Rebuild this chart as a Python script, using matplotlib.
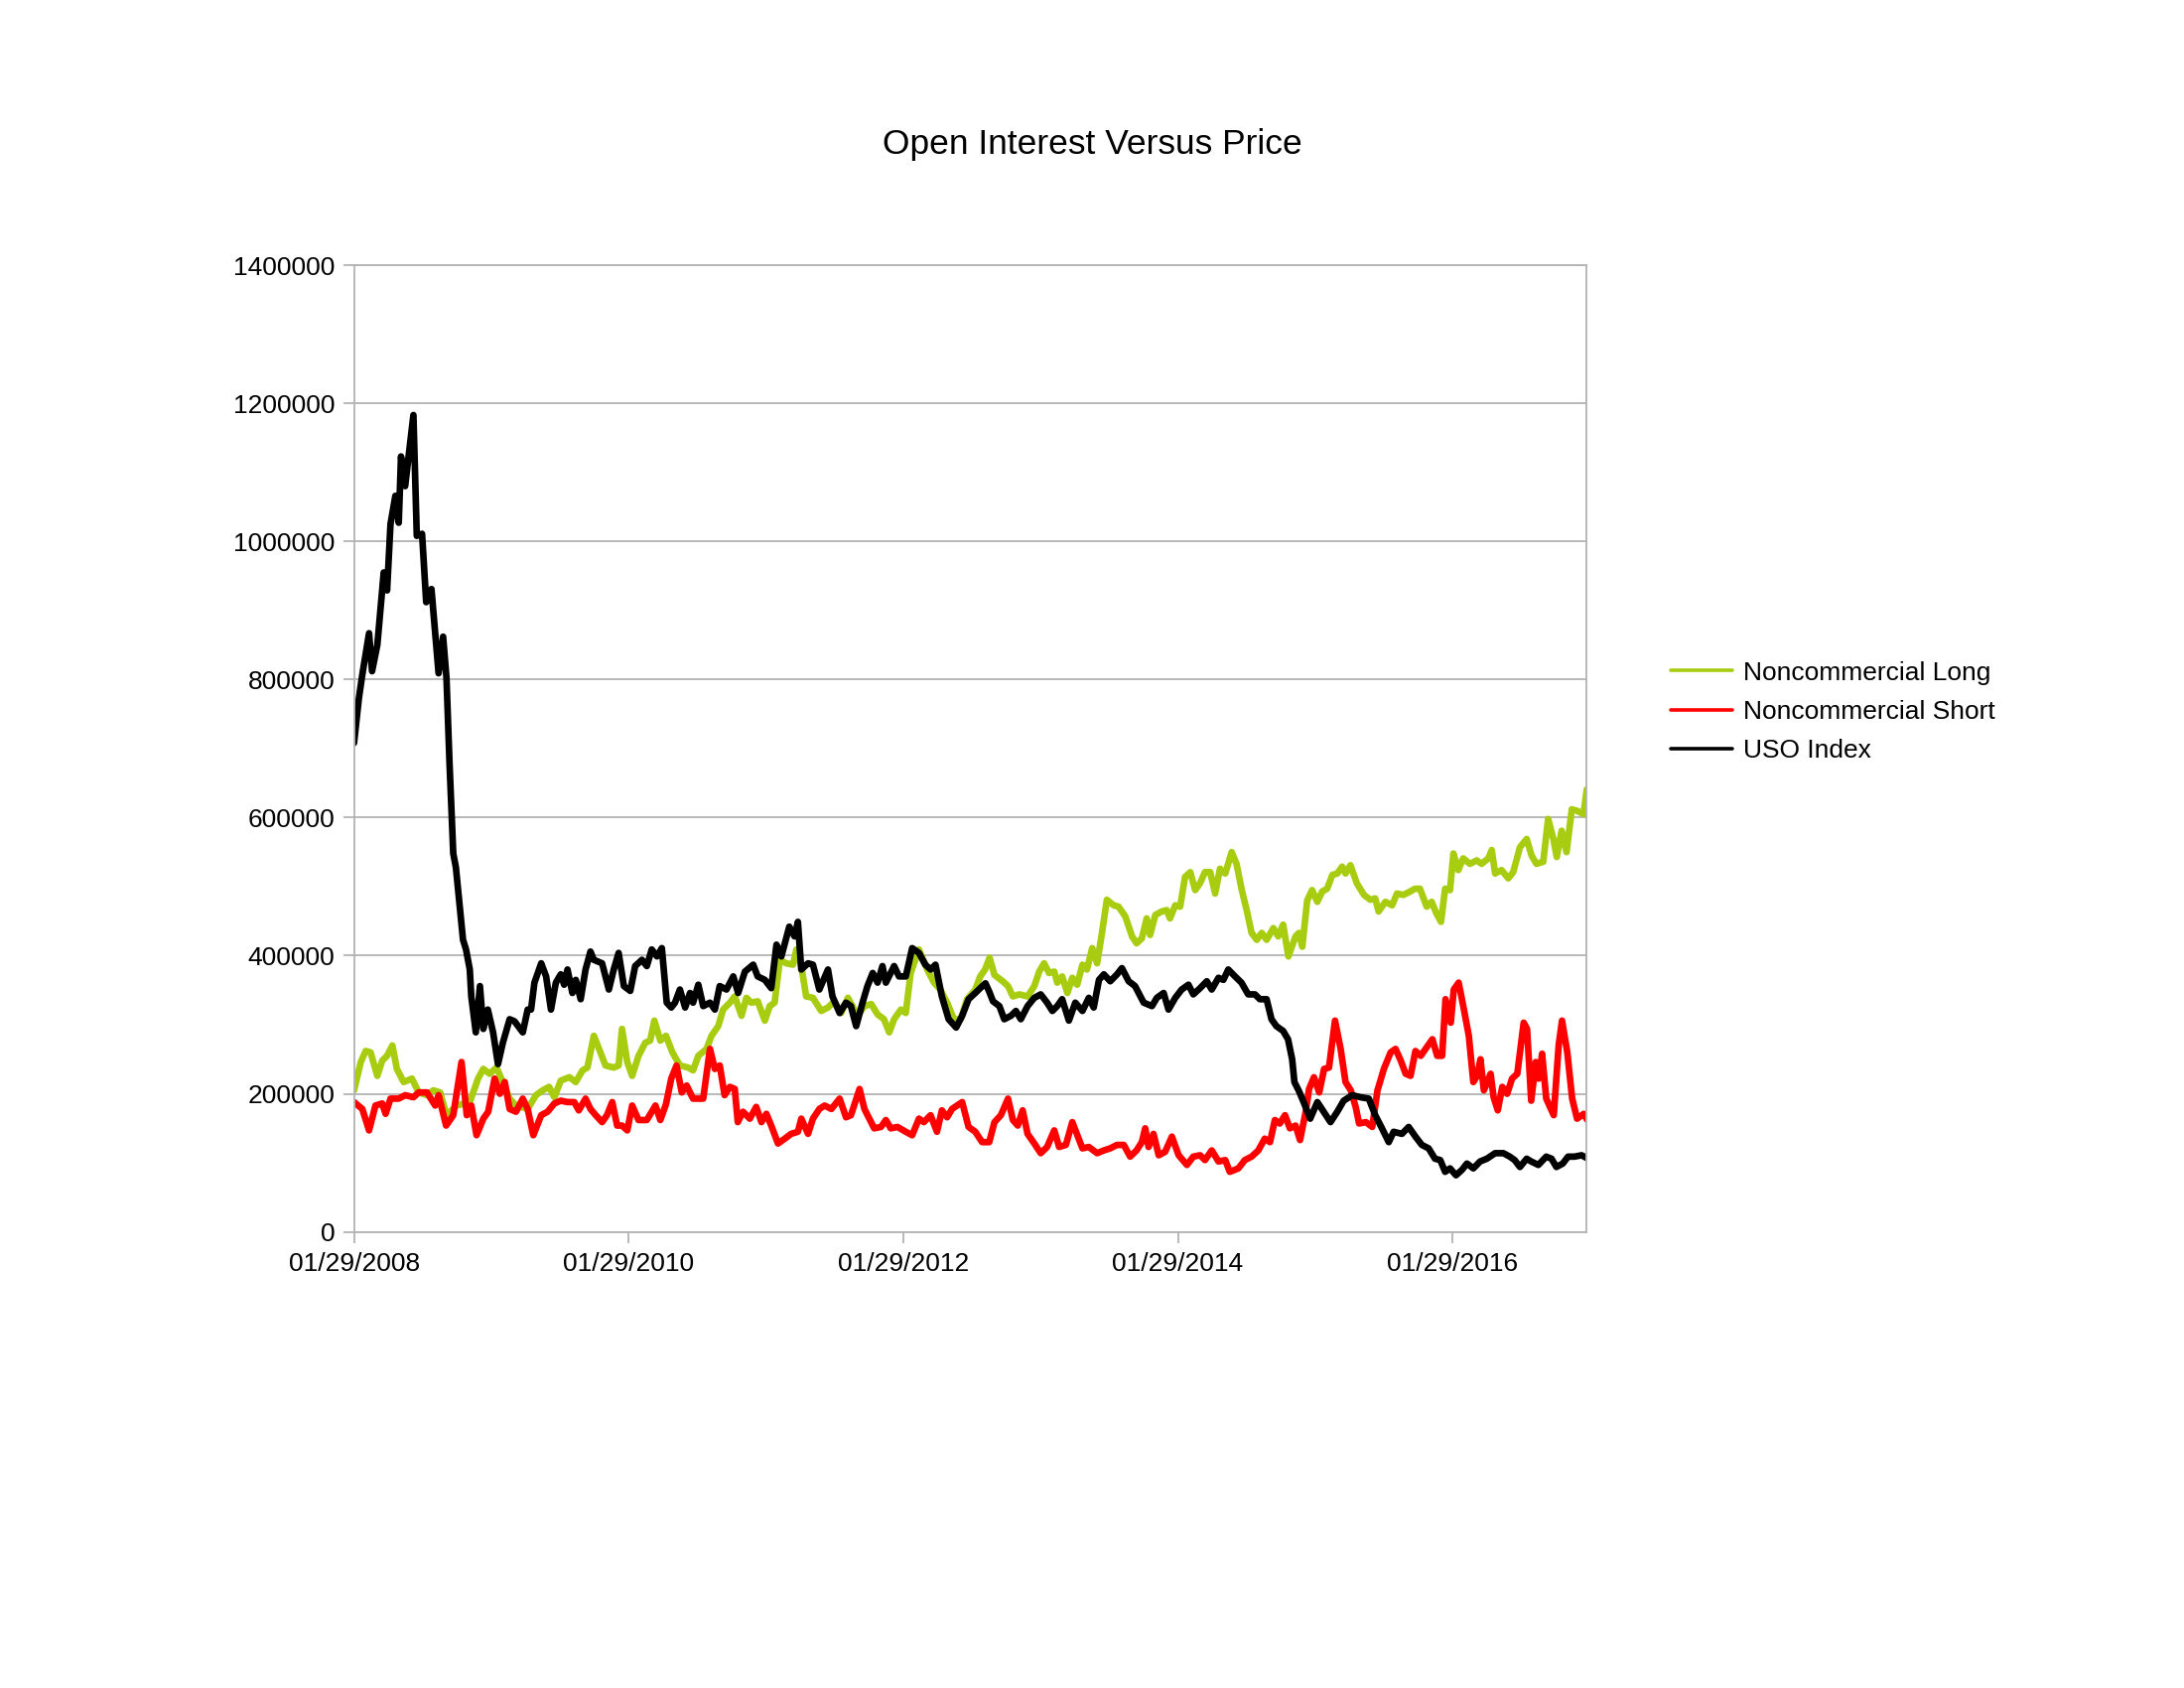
import numpy as np
import matplotlib
matplotlib.use("Agg")
import matplotlib.pyplot as plt
import matplotlib.dates as mdates

plt.rcParams["font.family"] = ["Liberation Sans", "DejaVu Sans"]

# ===============================
# data (weeks since 01/29/2008, values in thousands)
# ===============================
START = "2008-01-29"
END_WEEKS = 468.5

long_weeks = [0, 2.5, 4.4, 6.3, 8.8, 10.7, 12.6, 14.5, 16.3, 18.9, 22.0, 24.5, 27.7, 30.2, 32.7, 35.2,
              39.0, 44.0, 47.2, 49.1, 51.6, 54.1, 56.6, 59.1, 61.6, 66.0, 69.2, 71.7, 74.2, 76.1, 78.6,
              81.8, 84.3, 86.8, 88.7, 91.2, 93.1, 95.6, 98.7, 100.6, 101.9, 103.8, 105.7, 108.2, 110.7,
              112.6, 114.2, 116.4, 118.5, 121.0, 123.9, 127.0, 128.9, 130.8, 134.0, 135.9, 138.4, 140.3,
              142.8, 144.7, 147.3, 149.1, 151.0, 153.5, 156.1, 158.0, 159.9, 161.8, 164.3, 166.8, 168.1,
              170.0, 171.9, 174.4, 177.6, 180.1, 182.6, 185.2, 187.7, 191.4, 194.0, 196.5, 199.0, 201.5,
              203.4, 205.3, 207.8, 209.7, 211.6, 214.7, 217.9, 220.4, 222.9, 225.4, 228.0, 230.5, 233.0,
              236.1, 238.0, 239.9, 241.6, 243.4, 246.6, 248.5, 250.4, 252.9, 256.0, 258.5, 260.4, 262.3,
              264.2, 266.1, 267.3, 269.2, 271.1, 273.0, 274.9, 276.8, 278.6, 280.5, 282.4, 284.3, 286.2,
              288.7, 290.6, 293.1, 295.7, 297.5, 299.4, 301.3, 302.6, 304.5, 307.0, 308.9, 310.2, 312.1,
              314.0, 315.9, 317.8, 319.7, 321.6, 323.5, 325.4, 327.3, 329.2, 331.1, 333.6, 335.5, 337.4,
              339.3, 341.2, 343.1, 345.0, 346.9, 349.4, 351.3, 353.2, 355.1, 357.9, 359.2, 360.4, 362.3,
              364.2, 366.1, 368.0, 369.9, 371.8, 373.7, 375.6, 376.8, 378.7, 381.2, 383.8, 386.3, 388.2,
              389.4, 392.0, 394.5, 396.4, 398.9, 401.4, 403.3, 405.2, 407.7, 409.6, 411.5, 413.1, 414.7,
              416.6, 417.8, 419.7, 421.6, 424.2, 426.7, 428.6, 431.1, 432.4, 433.7, 436.2, 438.7, 440.6,
              443.2, 445.7, 447.6, 449.5, 452.0, 453.9, 455.8, 457.1, 459.0, 460.9, 462.8, 464.7, 467.3,
              468.5]
long_vals = [205, 246, 262, 260, 226, 248, 255, 270, 236, 217, 222, 202, 198, 205, 202, 169,
             183, 188, 222, 236, 229, 238, 217, 193, 183, 178, 198, 205, 210, 195, 219,
             224, 217, 234, 238, 284, 265, 241, 238, 241, 294, 246, 226, 255, 274,
             277, 306, 277, 284, 260, 241, 238, 234, 255, 265, 284, 298, 322,
             332, 341, 313, 339, 332, 334, 306, 327, 332, 394, 389, 387, 409,
             385, 341, 339, 320, 325, 334, 317, 339, 313, 327, 330, 315, 308,
             289, 308, 322, 317, 375, 409, 380, 361, 351, 332, 308, 308, 337,
             351, 370, 380, 397, 372, 363, 356, 341, 344, 341, 356, 377, 389,
             375, 377, 361, 370, 346, 368, 358, 387, 380, 411, 389, 433, 481,
             473, 471, 457, 428, 418, 425, 454, 430, 459, 464, 466, 454, 473,
             471, 514, 521, 495, 505, 521, 521, 490, 526, 519, 550, 533, 495,
             466, 433, 423, 433, 423, 440, 428, 445, 399, 428, 433, 413, 480,
             495, 478, 493, 497, 517, 519, 529, 519, 531, 505, 488, 481, 483,
             464, 478, 473, 490, 488, 493, 497, 497, 471, 478, 461, 449, 497,
             495, 548, 524, 541, 533, 538, 533, 541, 553, 519, 524, 512, 521,
             557, 569, 545, 533, 536, 598, 569, 543, 581, 550, 612, 610, 605,
             641]

short_weeks = [0, 3.1, 5.7, 8.2, 10.7, 12.0, 13.8, 17.0, 19.5, 22.6, 24.5, 27.7, 30.8, 32.1, 35.0, 37.7,
               40.9, 42.8, 44.6, 46.6, 49.1, 51.0, 53.5, 55.4, 57.3, 59.1, 61.6, 64.1, 66.0, 68.2, 71.1,
               73.6, 76.1, 78.6, 81.1, 83.7, 85.5, 88.0, 89.9, 91.8, 94.3, 96.2, 98.1, 100.0, 101.9,
               103.8, 105.7, 108.2, 111.3, 114.5, 116.4, 118.5, 120.5, 122.6, 124.5, 126.4, 128.9, 130.8,
               132.7, 135.3, 137.1, 139.0, 140.9, 142.8, 144.7, 145.9, 147.9, 150.4, 152.9, 154.8, 156.7,
               158.6, 161.2, 163.7, 166.2, 168.7, 170.0, 172.5, 174.4, 176.9, 178.8, 181.4, 184.5, 187.0,
               188.9, 192.1, 194.0, 197.7, 200.3, 202.1, 204.0, 206.5, 209.7, 212.2, 214.7, 216.6, 219.1,
               221.6, 223.5, 225.4, 227.3, 231.1, 233.6, 236.1, 238.7, 241.5, 243.4, 245.9, 248.5, 250.4,
               252.3, 254.2, 256.0, 258.5, 261.0, 263.5, 266.1, 268.0, 270.5, 273.0, 275.5, 276.8, 279.3,
               282.4, 285.0, 287.5, 290.0, 292.5, 295.0, 297.5, 299.4, 300.7, 302.0, 303.9, 305.8, 308.3,
               310.8, 313.4, 316.5, 319.0, 321.6, 323.5, 326.0, 328.5, 331.1, 332.9, 336.1, 338.6, 341.2,
               343.7, 346.2, 348.1, 350.0, 351.9, 353.8, 355.7, 357.9, 359.6, 361.7, 363.0, 364.9, 366.8,
               368.7, 370.6, 372.9, 375.0, 376.9, 378.8, 380.7, 382.0, 384.5, 387.0, 389.0, 391.5, 394.0,
               395.9, 397.8, 399.7, 401.6, 403.5, 405.4, 407.3, 409.8, 411.7, 413.6, 414.9, 416.8, 418.0,
               419.9, 421.8, 423.7, 425.4, 426.9, 428.2, 429.4, 432.0, 433.2, 434.7, 436.4, 438.3, 440.2,
               442.1, 444.6, 445.9, 447.4, 449.1, 450.3, 451.6, 453.2, 456.0, 457.9, 459.2, 461.1, 463.0,
               464.9, 467.4, 468.5]
short_vals = [188, 178, 147, 183, 186, 171, 193, 193, 198, 195, 202, 202, 183, 198, 154, 169,
              246, 169, 183, 140, 164, 174, 222, 200, 217, 178, 174, 193, 178, 140, 169,
              174, 186, 190, 188, 188, 176, 193, 178, 169, 159, 169, 188, 154, 154,
              147, 183, 162, 162, 183, 162, 185, 222, 241, 202, 212, 193, 193,
              193, 265, 236, 241, 198, 210, 207, 159, 174, 164, 181, 159, 171,
              154, 128, 135, 142, 145, 164, 142, 164, 178, 183, 178, 193, 166,
              169, 207, 178, 150, 152, 162, 150, 152, 145, 140, 164, 159, 169,
              145, 176, 166, 178, 188, 152, 145, 130, 130, 159, 169, 193, 162,
              154, 176, 142, 128, 114, 123, 147, 123, 126, 159, 135, 121, 123,
              114, 118, 121, 126, 126, 109, 118, 130, 150, 123, 142, 111, 116,
              138, 111, 97, 109, 111, 104, 118, 102, 104, 87, 92, 104, 109,
              118, 135, 130, 162, 157, 169, 150, 154, 133, 174, 207, 224, 202,
              236, 238, 306, 265, 217, 205, 181, 157, 159, 152, 205, 236, 260,
              265, 248, 229, 226, 262, 255, 265, 279, 255, 255, 337, 303, 351,
              361, 322, 284, 217, 226, 250, 205, 229, 195, 176, 210, 200, 222,
              229, 303, 294, 190, 246, 222, 258, 193, 169, 270, 306, 260, 193,
              164, 171, 163]

uso_weeks = [0, 1.9, 3.1, 5.7, 6.9, 8.8, 11.3, 12.6, 13.8, 15.7, 17.0, 17.9, 19.5, 22.6, 23.9, 25.8,
             27.4, 29.5, 32.1, 33.9, 35.2, 36.3, 37.7, 38.7, 41.5, 42.5, 44.0, 44.6, 46.3, 47.8, 49.1,
             50.9, 52.8, 54.7, 56.6, 59.1, 61.0, 64.1, 66.0, 67.3, 68.5, 71.1, 73.0, 74.8, 76.7, 78.6,
             79.9, 81.1, 83.0, 84.3, 86.2, 88.0, 89.9, 91.2, 94.3, 96.8, 98.7, 100.6, 102.5, 105.0,
             106.9, 109.4, 111.3, 113.2, 115.1, 117.0, 118.9, 120.5, 122.0, 123.9, 125.8, 127.7, 128.9,
             130.8, 132.7, 135.3, 137.1, 139.0, 141.6, 144.1, 146.0, 148.5, 151.7, 153.5, 156.1, 158.6,
             160.5, 162.4, 165.5, 167.4, 168.7, 170.0, 172.5, 174.4, 176.9, 180.1, 181.9, 184.5, 187.0,
             188.9, 190.8, 193.3, 195.2, 197.1, 199.0, 200.9, 202.1, 205.3, 207.2, 209.7, 212.2, 214.7,
             217.2, 219.1, 221.0, 223.5, 226.0, 228.9, 231.1, 233.6, 236.1, 238.0, 240.0, 241.5, 242.8,
             245.3, 247.2, 249.7, 251.6, 253.5, 256.0, 258.5, 261.0, 263.5, 265.4, 267.3, 269.2, 271.7,
             274.2, 276.8, 279.3, 281.2, 283.1, 285.0, 287.5, 290.0, 291.9, 294.4, 296.9, 300.1, 303.3,
             305.2, 307.7, 309.6, 312.1, 314.6, 317.2, 319.0, 321.6, 324.1, 326.0, 328.5, 330.4, 332.3,
             334.8, 337.3, 339.9, 342.4, 344.3, 346.8, 348.7, 350.6, 353.1, 355.0, 356.5, 357.5, 359.2,
             361.1, 363.4, 366.1, 368.6, 371.2, 373.7, 376.2, 379.4, 382.5, 385.7, 388.2, 390.7, 393.3,
             395.1, 398.3, 400.8, 403.4, 405.9, 408.4, 410.9, 412.8, 414.7, 416.6, 418.9, 421.1, 423.0,
             425.5, 428.0, 430.5, 433.7, 436.8, 439.3, 441.2, 443.1, 445.7, 447.5, 450.1, 453.2, 455.1,
             457.0, 459.5, 461.4, 463.9, 466.5, 468.5]
uso_vals = [708, 773, 807, 867, 812, 850, 955, 929, 1025, 1066, 1027, 1123, 1080, 1183, 1008, 1011,
            912, 931, 809, 862, 802, 680, 548, 528, 423, 409, 380, 341, 289, 356, 294,
            322, 289, 243, 274, 308, 305, 289, 322, 322, 361, 389, 370, 322, 361, 373,
            358, 380, 346, 365, 337, 380, 406, 394, 389, 351, 380, 404, 356, 349,
            385, 394, 385, 409, 399, 411, 332, 325, 332, 351, 325, 346, 332,
            358, 327, 332, 322, 356, 351, 370, 346, 377, 387, 370, 365, 353,
            416, 399, 442, 428, 449, 380, 389, 387, 351, 380, 341, 317, 332,
            327, 298, 332, 356, 375, 361, 385, 361, 385, 370, 370, 411, 404,
            387, 380, 387, 341, 308, 296, 313, 337, 346, 353, 360, 348, 334,
            327, 308, 313, 320, 308, 327, 339, 344, 332, 320, 327, 337, 306,
            332, 320, 339, 325, 365, 373, 363, 373, 382, 363, 356, 332, 327,
            339, 346, 322, 339, 351, 358, 344, 353, 363, 351, 368, 365, 380,
            370, 361, 344, 344, 337, 337, 308, 298, 291, 279, 250, 217, 204,
            186, 164, 188, 174, 159, 174, 190, 198, 195, 193, 169, 150, 130,
            145, 142, 152, 138, 126, 121, 106, 104, 87, 92, 82, 90, 99,
            92, 102, 106, 114, 114, 109, 104, 94, 106, 102, 97, 109, 106,
            94, 99, 109, 109, 111, 107]

series_names = ["Noncommercial Long", "Noncommercial Short", "USO Index"]
series_colors = ["#a8cc10", "#ff0000", "#000000"]

y_ticks = [0, 200000, 400000, 600000, 800000, 1000000, 1200000, 1400000]
x_tick_dates = ["2008-01-29", "2010-01-29", "2012-01-29", "2014-01-29", "2016-01-29"]


def to_dates(weeks):
    days = np.round(np.array(weeks) * 7).astype(int)
    return np.datetime64(START) + days.astype("timedelta64[D]")


# ===============================
# plot
# ===============================
fig = plt.figure(figsize=(22, 17), dpi=100)
ax = fig.add_axes([0.1621, 0.2702, 0.5643, 0.5727])

all_series = [(long_weeks, long_vals), (short_weeks, short_vals), (uso_weeks, uso_vals)]
for (wk, vals), name, col in zip(all_series, series_names, series_colors):
    ax.plot(to_dates(wk), np.array(vals) * 1000, color=col, lw=4.8, label=name,
            solid_joinstyle="round", solid_capstyle="round")

ax.set_ylim(0, 1400000)
ax.set_yticks(y_ticks)
ax.set_yticklabels([str(v) for v in y_ticks])
ax.set_xlim(np.datetime64(START), np.datetime64(START) + np.timedelta64(int(END_WEEKS * 7), "D"))
ax.set_xticks([np.datetime64(d) for d in x_tick_dates])
ax.xaxis.set_major_formatter(mdates.DateFormatter("%m/%d/%Y"))

grey = "#b3b3b3"
ax.grid(axis="y", color=grey, lw=1.3)
ax.set_axisbelow(True)
for s in ax.spines.values():
    s.set_color(grey)
    s.set_linewidth(1.3)
ax.tick_params(axis="both", colors=grey, length=8, width=1.3, labelsize=19, labelcolor="black")
ax.tick_params(axis="y", pad=6)
ax.tick_params(axis="x", pad=7)

fig.text(0.5, 1 - 145 / 1700, "Open Interest Versus Price", ha="center", va="center", fontsize=25.5)

leg = fig.legend(loc="center left", bbox_to_anchor=(1683 / 2200, 1 - 717 / 1700), frameon=False,
                 fontsize=19, handlelength=2.35, handletextpad=0.4, labelspacing=0.58,
                 borderpad=0, borderaxespad=0)
for ln in leg.get_lines():
    ln.set_linewidth(2.6)

fig.savefig("out.png", dpi=100)
plt.close(fig)
